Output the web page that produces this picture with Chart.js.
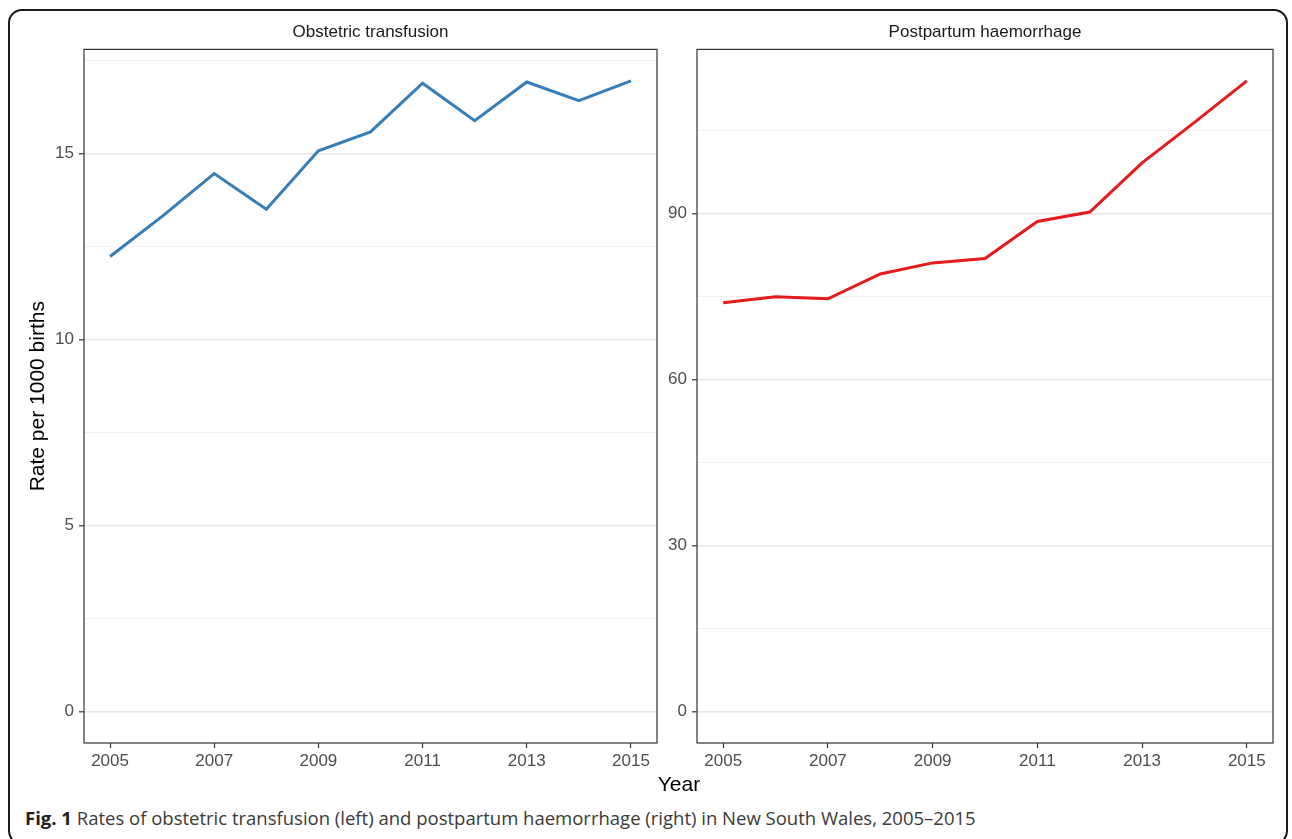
<!DOCTYPE html>
<html>
<head>
<meta charset="utf-8">
<script src="https://cdn.jsdelivr.net/npm/chart.js@4"></script>
<style>
  body { margin: 0; background: #fff; width: 1292px; height: 839px; position: relative; overflow: hidden; }
  #frame { position: absolute; left: 8px; top: 9px; width: 1280px; height: 836px; border: 2px solid #1a1a1a; border-radius: 14px; box-sizing: border-box; }
  .panel { position: absolute; top: 0; }
  #leftWrap { left: 0; width: 670px; height: 775px; }
  #rightWrap { left: 660px; width: 625px; height: 775px; }
  #xTitle { position: absolute; left: 0; width: 1358px; top: 772px; text-align: center; font: 21px "Liberation Sans", Arial, sans-serif; color: #000; }
  #caption { position: absolute; left: 25px; top: 809px; font: 18.5px "Open Sans", sans-serif; line-height: 1; color: #3a3a3a; white-space: nowrap; }
  #caption b { font-weight: 700; color: #222; }
</style>
</head>
<body>
<div id="frame"></div>
<div class="panel" id="leftWrap"><canvas id="leftChart"></canvas></div>
<div class="panel" id="rightWrap"><canvas id="rightChart"></canvas></div>
<div id="xTitle">Year</div>
<div id="caption"><b>Fig. 1</b> Rates of obstetric transfusion (left) and postpartum haemorrhage (right) in New South Wales, 2005–2015</div>

<script>
// data
let years = [2005, 2006, 2007, 2008, 2009, 2010, 2011, 2012, 2013, 2014, 2015];
let transfusionRates = [12.23, 13.31, 14.46, 13.50, 15.07, 15.58, 16.89, 15.88, 16.92, 16.42, 16.95];
let pphRates = [73.9, 75.0, 74.6, 79.1, 81.1, 81.9, 88.6, 90.3, 99.2, 106.5, 114.0];
let xTickYears = [2005, 2007, 2009, 2011, 2013, 2015];

const FONT = '"Liberation Sans", Arial, sans-serif';

// draw the dark box around the panel like ggplot's theme_bw
const panelBorder = {
    id: 'panelBorder',
    afterDraw(chart) {
        let a = chart.chartArea;
        let c = chart.ctx;
        c.save();
        c.strokeStyle = '#333333';
        c.lineWidth = 1.2;
        c.strokeRect(a.left, a.top, a.right - a.left, a.bottom - a.top);
        c.restore();
    }
};

function makeChart(canvasId, title, values, color, majorStep, yWidth, yTitle, padRight) {
    let maxVal = Math.max(...values);
    let yMin = -0.05 * maxVal;
    let yMax = maxVal * 1.05;
    let ctx = document.getElementById(canvasId).getContext('2d');

    return new Chart(ctx, {
        type: 'line',
        data: {
            datasets: [{
                data: years.map((y, i) => ({ x: y, y: values[i] })),
                borderColor: color,
                borderWidth: 3,
                pointRadius: 0,
                fill: false,
                tension: 0
            }]
        },
        options: {
            responsive: true,
            maintainAspectRatio: false,
            animation: false,
            layout: { padding: { left: 0, right: padRight, top: 0, bottom: 0 } },
            plugins: {
                legend: { display: false },
                tooltip: { enabled: false },
                title: {
                    display: true,
                    fullSize: false,   // center over the plot area, not the canvas
                    text: title,
                    color: '#1a1a1a',
                    font: { family: FONT, size: 17, weight: 'normal' },
                    padding: { top: 22, bottom: 7 }
                }
            },
            scales: {
                x: {
                    type: 'linear',
                    min: 2004.5,
                    max: 2015.5,
                    afterBuildTicks: (scale) => {
                        scale.ticks = xTickYears.map(v => ({ value: v }));
                    },
                    afterFit: (scale) => { scale.height = 32; },
                    ticks: {
                        color: '#4d4d4d',
                        font: { family: FONT, size: 17 },
                        padding: 3,
                        maxRotation: 0,
                        callback: (v) => String(v)
                    },
                    grid: { drawOnChartArea: false, tickLength: 5, tickColor: '#333333', tickWidth: 1.2 },
                    border: { display: false }
                },
                y: {
                    type: 'linear',
                    min: yMin,
                    max: yMax,
                    afterBuildTicks: (scale) => {
                        let t = [];
                        for (let v = 0; v <= yMax; v += majorStep / 2) t.push({ value: v });
                        scale.ticks = t;
                    },
                    afterFit: (scale) => { scale.width = yWidth; },
                    ticks: {
                        color: '#4d4d4d',
                        font: { family: FONT, size: 17 },
                        padding: 5,
                        callback: (v) => (v % majorStep === 0 ? String(v) : '')
                    },
                    title: {
                        display: !!yTitle,
                        text: yTitle || '',
                        color: '#000',
                        font: { family: FONT, size: 21 },
                        padding: { top: 26, bottom: 0 }
                    },
                    grid: {
                        tickLength: 5,
                        color: (c) => (c.tick && c.tick.value % majorStep === 0 ? '#e6e6e6' : '#f0f0f0'),
                        lineWidth: (c) => (c.tick && c.tick.value % majorStep === 0 ? 1.6 : 1),
                        tickColor: (c) => (c.tick && c.tick.value % majorStep === 0 ? '#333333' : 'rgba(0,0,0,0)'),
                        tickWidth: 1.2
                    },
                    border: { display: false }
                }
            }
        },
        plugins: [panelBorder]
    });
}

makeChart('leftChart', 'Obstetric transfusion', transfusionRates, '#377EB8', 5, 84, 'Rate per 1000 births', 13);
makeChart('rightChart', 'Postpartum haemorrhage', pphRates, '#E41A1C', 30, 37, null, 12);
</script>
</body>
</html>
